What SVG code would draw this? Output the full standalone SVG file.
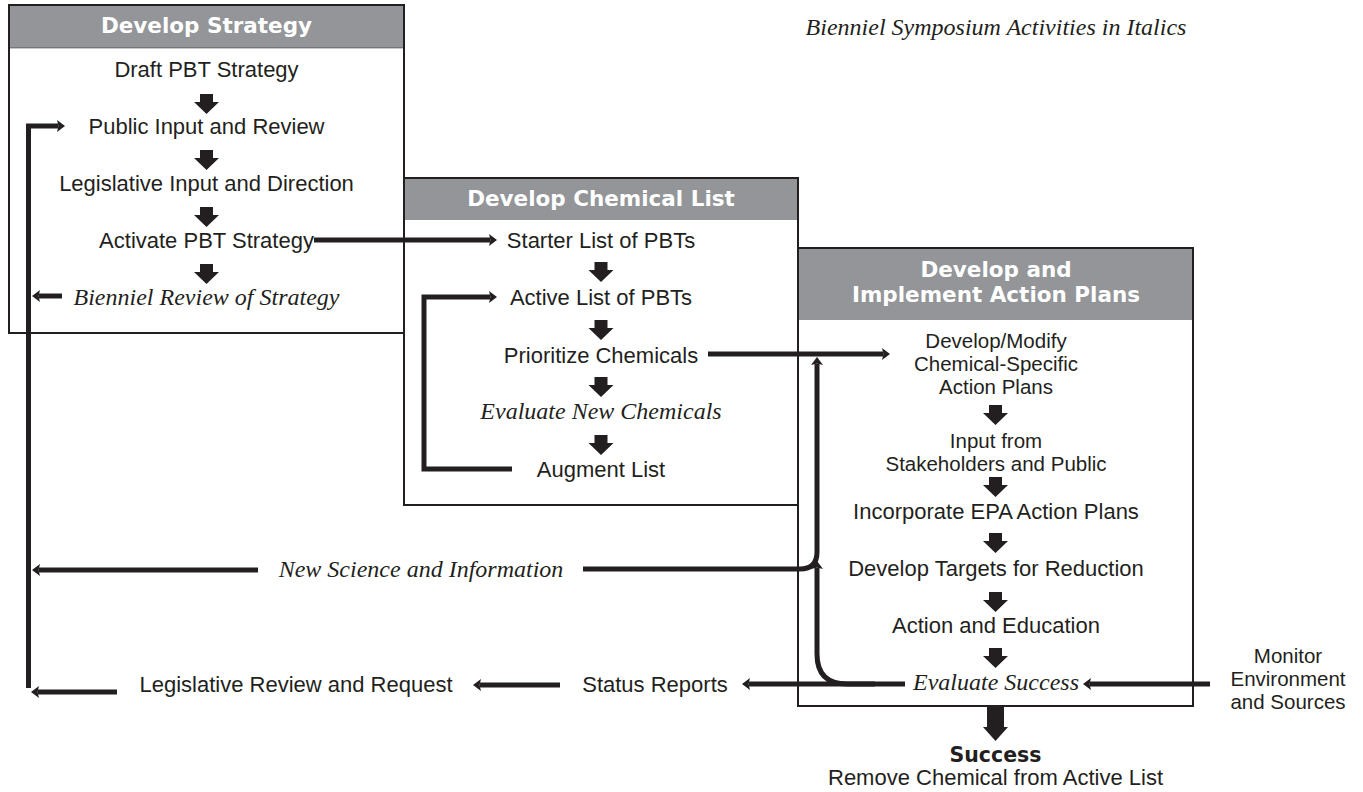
<svg xmlns="http://www.w3.org/2000/svg" xmlns:xlink="http://www.w3.org/1999/xlink" width="1363" height="792" viewBox="0 0 1363 792">
<style>
.box{fill:#fff;stroke:#231f20;stroke-width:2}
.hdr{fill:#939598}
.ht{font-family:"DejaVu Sans",sans-serif;font-weight:bold;font-size:21.5px;fill:#fff;text-anchor:middle}
.t{font-family:"Liberation Sans",Arial,sans-serif;font-size:22px;fill:#231f20;text-anchor:middle}
.m{font-size:20.5px}
.i{font-family:"Liberation Serif","Times New Roman",serif;font-style:italic;font-size:24px;fill:#231f20;text-anchor:middle}
.c{fill:none;stroke:#231f20;stroke-width:5;marker-end:url(#ah)}
.blk{fill:#231f20}
</style>
<defs>
<marker id="ah" markerUnits="userSpaceOnUse" viewBox="0 0 8 12" markerWidth="8" markerHeight="12" refX="1.5" refY="6" orient="auto">
<path d="M0,0 L8,6 L0,12 L1.5,6 Z" fill="#231f20"/>
</marker>
<path id="dn" d="M-6.5,0 H6.5 V8 H12.5 L0,20 L-12.5,8 H-6.5 Z"/>
</defs>
<rect width="1363" height="792" fill="#fff"/>

<g id="box-strategy">
<rect class="box" x="9" y="5" width="395" height="328"/>
<rect class="hdr" x="10" y="6" width="393" height="42"/>
<line x1="9" y1="48" x2="404" y2="48" stroke="#231f20" stroke-width="0.5"/>
<text class="ht" x="206.5" y="33">Develop Strategy</text>
</g>
<g id="box-chemical">
<rect class="box" x="404" y="178" width="394" height="327"/>
<rect class="hdr" x="405" y="179" width="392" height="41"/>
<text class="ht" x="601" y="206">Develop Chemical List</text>
</g>
<g id="box-action">
<rect class="box" x="798" y="248" width="395" height="458"/>
<rect class="hdr" x="799" y="249" width="393" height="71"/>
<text class="ht" x="996" y="277">Develop and</text>
<text class="ht" x="996" y="302">Implement Action Plans</text>
</g>

<g id="title"><text class="i" x="996" y="35">Bienniel Symposium Activities in Italics</text></g>

<g id="n-draft"><text class="t" x="206.5" y="77">Draft PBT Strategy</text></g>
<g id="n-public"><text class="t" x="206.5" y="134">Public Input and Review</text></g>
<g id="n-legis"><text class="t" x="206.5" y="191">Legislative Input and Direction</text></g>
<g id="n-activate"><text class="t" x="206.5" y="248">Activate PBT Strategy</text></g>
<g id="n-bienniel"><text class="i" x="206.5" y="305">Bienniel Review of Strategy</text></g>

<g id="n-starter"><text class="t" x="601" y="248">Starter List of PBTs</text></g>
<g id="n-active"><text class="t" x="601" y="305">Active List of PBTs</text></g>
<g id="n-prior"><text class="t" x="601" y="363">Prioritize Chemicals</text></g>
<g id="n-evalnew"><text class="i" x="601" y="419">Evaluate New Chemicals</text></g>
<g id="n-augment"><text class="t" x="601" y="477">Augment List</text></g>

<g id="n-devmod"><text class="t m" x="996" y="348">Develop/Modify</text><text class="t m" x="996" y="371">Chemical-Specific</text><text class="t m" x="996" y="394">Action Plans</text></g>
<g id="n-input"><text class="t m" x="996" y="448">Input from</text><text class="t m" x="996" y="471">Stakeholders and Public</text></g>
<g id="n-epa"><text class="t" x="996" y="519">Incorporate EPA Action Plans</text></g>
<g id="n-targets"><text class="t" x="996" y="576">Develop Targets for Reduction</text></g>
<g id="n-action"><text class="t" x="996" y="633">Action and Education</text></g>
<g id="n-evalsucc"><text class="i" x="996" y="690">Evaluate Success</text></g>

<g id="n-newsci"><text class="i" x="421" y="577">New Science and Information</text></g>
<g id="n-legrev"><text class="t" x="296" y="692">Legislative Review and Request</text></g>
<g id="n-status"><text class="t" x="655" y="692">Status Reports</text></g>
<g id="n-monitor"><text class="t m" x="1288" y="663">Monitor</text><text class="t m" x="1288" y="686">Environment</text><text class="t m" x="1288" y="709">and Sources</text></g>
<g id="n-success"><text x="995.5" y="762" style="font-family:'DejaVu Sans',sans-serif;font-weight:bold;font-size:20.5px;fill:#231f20;text-anchor:middle">Success</text><text class="t" x="995.5" y="785">Remove Chemical from Active List</text></g>

<g id="connectors">
<g class="blk">
<use xlink:href="#dn" x="206.5" y="94"/>
<use xlink:href="#dn" x="206.5" y="150"/>
<use xlink:href="#dn" x="206.5" y="207"/>
<use xlink:href="#dn" x="206.5" y="264"/>
<use xlink:href="#dn" x="601" y="262"/>
<use xlink:href="#dn" x="601" y="320"/>
<use xlink:href="#dn" x="601" y="377"/>
<use xlink:href="#dn" x="601" y="435"/>
<use xlink:href="#dn" x="995.5" y="405"/>
<use xlink:href="#dn" x="995.5" y="477"/>
<use xlink:href="#dn" x="995.5" y="533"/>
<use xlink:href="#dn" x="995.5" y="592"/>
<use xlink:href="#dn" x="995.5" y="648"/>
<path d="M987,706 H1004 V727 H1008 L995.5,741 L983,727 H987 Z"/>
</g>
<path class="c" d="M28.5,688 V126 H58.5"/>
<path class="c" d="M62,296 H38.5"/>
<path class="c" d="M258,570 H38.5"/>
<path class="c" d="M117,692 H37.5"/>
<path class="c" d="M314,240 H490.5"/>
<path class="c" d="M512,469 H424 V297 H490.5"/>
<path class="c" d="M708,354 H883.5"/>
<path class="c" d="M583,569 H800 Q817,569 817,552 V363.5"/>
<path class="c" d="M875,684 H847 Q817,684 817,654 V567.5"/>
<path class="c" d="M905,684 H748.5"/>
<path class="c" d="M560,685 H479.5"/>
<path class="c" d="M1210,684 H1089.5"/>
</g>
</svg>
